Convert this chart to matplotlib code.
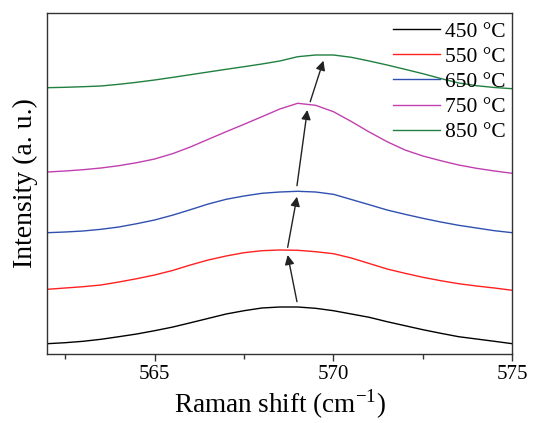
import matplotlib
matplotlib.use("Agg")
import matplotlib.pyplot as plt
from matplotlib.ticker import MultipleLocator

plt.rcParams["font.family"] = ["Liberation Serif", "DejaVu Serif"]
plt.rcParams["mathtext.fontset"] = "custom"
plt.rcParams["mathtext.rm"] = "Liberation Serif"

# Raman shift (cm-1), read every 0.5 cm-1 off the picture
shift = [562.0, 562.5, 563.0, 563.5, 564.0, 564.5, 565.0, 565.5, 566.0,
         566.5, 567.0, 567.5, 568.0, 568.5, 569.0, 569.5, 570.0, 570.5,
         571.0, 571.5, 572.0, 572.5, 573.0, 573.5, 574.0, 574.5, 575.0]

# stacked intensity (a. u.)
i_450 = [10.3, 11.3, 12.7, 14.7, 17.3, 20.0, 23.3, 26.9, 31.2,
         35.6, 40.0, 43.3, 46.0, 47.0, 47.0, 45.7, 43.3, 40.0,
         36.7, 32.3, 28.3, 24.3, 20.7, 17.3, 15.0, 12.7, 10.3]
i_550 = [64.7, 66.0, 67.3, 69.0, 72.0, 75.3, 79.0, 83.5, 89.0,
         94.0, 98.0, 101.3, 103.3, 104.0, 103.7, 102.3, 100.3, 96.0,
         90.5, 85.0, 80.7, 76.7, 73.3, 70.3, 68.0, 66.0, 63.7]
i_650 = [121.3, 122.0, 123.0, 124.7, 127.0, 130.3, 134.0, 138.8, 144.3,
         150.0, 154.7, 158.0, 160.7, 162.0, 162.7, 162.0, 159.7, 154.5,
         149.3, 144.0, 139.7, 135.7, 132.0, 128.7, 126.0, 123.3, 121.3]
i_750 = [182.0, 183.0, 184.3, 186.0, 188.3, 191.3, 195.0, 200.3, 207.0,
         214.7, 222.3, 229.7, 237.3, 245.0, 250.7, 248.7, 242.3, 232.5,
         222.0, 212.3, 204.0, 198.0, 193.3, 189.0, 185.7, 183.0, 180.7]
i_850 = [266.3, 266.7, 267.3, 268.0, 269.7, 271.7, 274.0, 276.6, 279.3,
         282.0, 284.7, 287.3, 290.0, 293.0, 297.3, 299.0, 299.0, 296.7,
         293.0, 289.0, 284.7, 280.3, 275.5, 271.0, 268.3, 266.5, 265.3]

labels = ["450 °C", "550 °C", "650 °C", "750 °C", "850 °C"]
colors = ["#000000", "#ff2020", "#3050b0", "#c040b0", "#208040"]

# arrows following the peak shift: (tail x, tail y, tip x, tip y)
arrows = [
    (568.98, 52.3, 568.72, 99.0),
    (568.72, 106.7, 568.98, 157.3),
    (568.98, 168.3, 569.27, 244.0),
    (569.35, 252.3, 569.72, 293.3),
]

fig = plt.figure(figsize=(5.35, 4.23), dpi=100)
ax = fig.add_axes([47.3 / 535, 1 - 354 / 423, (512.3 - 47.3) / 535, (354 - 12.7) / 423])

for ys, lab, c in zip([i_450, i_550, i_650, i_750, i_850], labels, colors):
    ax.plot(shift, ys, color=c, lw=1.0, label=lab)

for x0, y0, x1, y1 in arrows:
    ax.annotate("", xy=(x1, y1), xytext=(x0, y0),
                arrowprops=dict(arrowstyle="-|>", color="#222222", lw=1.0,
                                mutation_scale=14, shrinkA=0, shrinkB=0))

ax.set_xlim(562, 575)
ax.set_ylim(0, 341.3)
ax.xaxis.set_major_locator(MultipleLocator(5))
ax.xaxis.set_minor_locator(MultipleLocator(2.5))
ax.set_yticks([])
ax.tick_params(axis="x", which="major", direction="out", length=5, width=1,
               labelsize=15, pad=3, color="#333333")
ax.tick_params(axis="x", which="minor", direction="out", length=3.5, width=1, color="#333333")
for sp in ax.spines.values():
    sp.set_color("#333333")
    sp.set_linewidth(1.0)

ax.set_xlabel("Raman shift (cm$^{-1}$)", fontsize=19.5, labelpad=2)
ax.set_ylabel("Intensity (a. u.)", fontsize=20, labelpad=6.5)

ax.legend(loc="upper right", bbox_to_anchor=(0.985, 0.973), frameon=False,
          fontsize=15.5, handlelength=2.2, handletextpad=0.2,
          labelspacing=0.23, borderpad=0, borderaxespad=0)

fig.savefig("out.png", dpi=100)
